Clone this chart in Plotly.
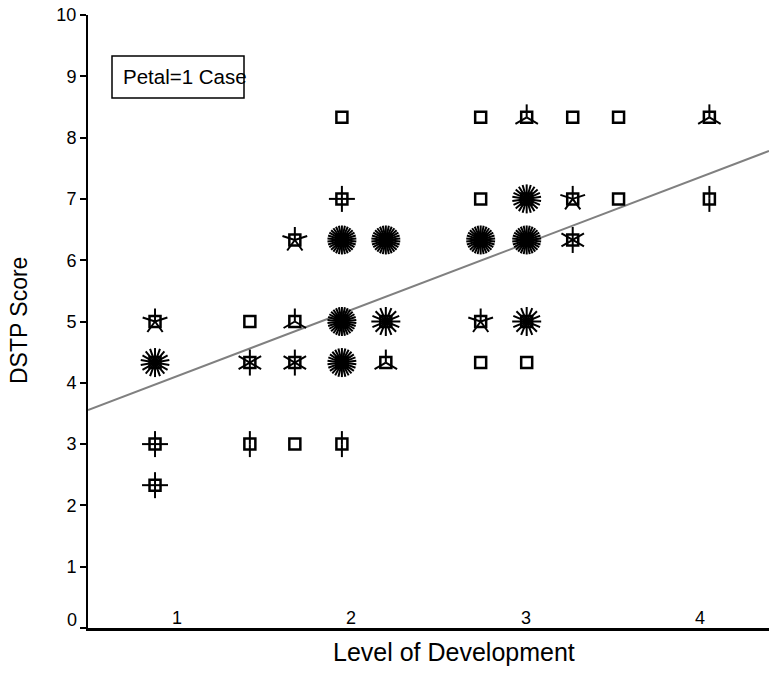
import math
import plotly.graph_objects as go

# ---- data ----
level = [0.874, 0.874, 0.874, 0.874,
         1.418, 1.418, 1.418,
         1.676, 1.676, 1.676, 1.676,
         1.946, 1.946, 1.946, 1.946, 1.946, 1.946,
         2.198, 2.198, 2.198,
         2.742, 2.742, 2.742, 2.742, 2.742,
         3.006, 3.006, 3.006, 3.006, 3.006,
         3.270, 3.270, 3.270,
         3.533, 3.533,
         4.054, 4.054]
score = [5.0, 4.33, 3.0, 2.33,
         5.0, 4.33, 3.0,
         6.33, 5.0, 4.33, 3.0,
         8.33, 7.0, 6.33, 5.0, 4.33, 3.0,
         6.33, 5.0, 4.33,
         8.33, 7.0, 6.33, 5.0, 4.33,
         8.33, 7.0, 6.33, 5.0, 4.33,
         8.33, 7.0, 6.33,
         8.33, 7.0,
         8.33, 7.0]
cases = [5, 18, 4, 4,
         1, 6, 2,
         5, 3, 6, 1,
         1, 4, 30, 30, 26, 2,
         30, 16, 3,
         1, 1, 30, 5, 1,
         3, 22, 30, 16, 1,
         1, 5, 6,
         1, 1,
         3, 2]

fit_intercept = 3.026
fit_slope = 1.082

x_ticks = [1, 2, 3, 4]
x_tick_text = ["1", "2", "3", "4"]
y_ticks = list(range(0, 11))
y_tick_text = [""] + [str(v) for v in y_ticks[1:]]

# ---- geometry (styling only) ----
W, H = 769, 694
ML, MR, MT, MB = 88, 0, 15, 66
x_range = [0.4895, 4.396]
y_range = [0, 10]
px_per_x = (W - ML - MR) / (x_range[1] - x_range[0])
px_per_y = (H - MT - MB) / (y_range[1] - y_range[0])


def petal_len(n):
    return 14.5 if n >= 16 else 13.0


px, py = [], []
for xv, yv, n in zip(level, score, cases):
    if n < 2:
        continue
    r = petal_len(n)
    for k in range(n):
        a = math.pi / 2 + 2 * math.pi * k / n
        px += [xv, xv + r * math.cos(a) / px_per_x, None]
        py += [yv, yv + r * math.sin(a) / px_per_y, None]

fig = go.Figure()
fig.add_trace(go.Scatter(
    x=[x_range[0], x_range[1]],
    y=[fit_intercept + fit_slope * x_range[0], fit_intercept + fit_slope * x_range[1]],
    mode="lines", line=dict(color="#808080", width=2), hoverinfo="skip"))
fig.add_trace(go.Scatter(x=level, y=score, mode="markers",
                         marker=dict(symbol="square-open", size=11, color="black",
                                     line=dict(color="black", width=2.5))))
fig.add_trace(go.Scatter(x=px, y=py, mode="lines",
                         line=dict(color="black", width=2), hoverinfo="skip"))

font = "Liberation Sans, Arial, sans-serif"
fig.update_layout(
    width=W, height=H, showlegend=False,
    margin=dict(l=ML, r=MR, t=MT, b=MB),
    paper_bgcolor="white", plot_bgcolor="white",
    font=dict(family=font, color="black", size=18),
    xaxis=dict(range=x_range, tickvals=x_ticks, showticklabels=False,
               ticks="", showgrid=False, zeroline=False, automargin=False,
               showline=True, linecolor="black", linewidth=2.5),
    yaxis=dict(range=y_range, tickvals=y_ticks, ticktext=y_tick_text,
               ticks="outside", ticklen=6, ticklabeloverflow="allow",
               tickwidth=2, tickcolor="black", showgrid=False, zeroline=False,
               showline=True, linecolor="black", linewidth=2, automargin=False,
               tickfont=dict(size=18)),
)
for xv, txt in zip(x_ticks, x_tick_text):
    fig.add_annotation(x=xv, y=0, xref="x", yref="y", text=txt, showarrow=False,
                       yanchor="bottom", yshift=-2, font=dict(size=18))
fig.add_annotation(x=0, y=0, xref="paper", yref="y", text="0", showarrow=False,
                   xanchor="right", yanchor="middle", xshift=-9, yshift=8,
                   font=dict(size=18))
# axis titles
fig.add_annotation(x=(454 - ML) / (W - ML), y=0, xref="paper", yref="paper",
                   text="Level of Development", showarrow=False,
                   xanchor="center", yanchor="middle", yshift=-24,
                   font=dict(size=25))
fig.add_annotation(x=(19 - ML) / (W - ML), y=(H - MB - 321) / (H - MT - MB),
                   xref="paper", yref="paper",
                   text="DSTP Score", showarrow=False, textangle=-90,
                   xanchor="center", yanchor="middle", font=dict(size=23))
# petal key box
fig.add_shape(type="rect", xref="paper", yref="paper",
              x0=(112 - ML) / (W - ML), x1=(244 - ML) / (W - ML),
              y0=(H - MB - 98) / (H - MT - MB), y1=(H - MB - 56) / (H - MT - MB),
              line=dict(color="black", width=1.5))
fig.add_annotation(xref="paper", yref="paper",
                   x=(121 - ML) / (W - ML), y=(H - MB - 77) / (H - MT - MB),
                   xanchor="left", yanchor="middle", showarrow=False,
                   text="Petal=1 Case", font=dict(size=20.5))
fig.write_html("out.html", config={"displayModeBar": False},
               post_script="document.body.style.margin='0';document.body.style.overflow='hidden';")
